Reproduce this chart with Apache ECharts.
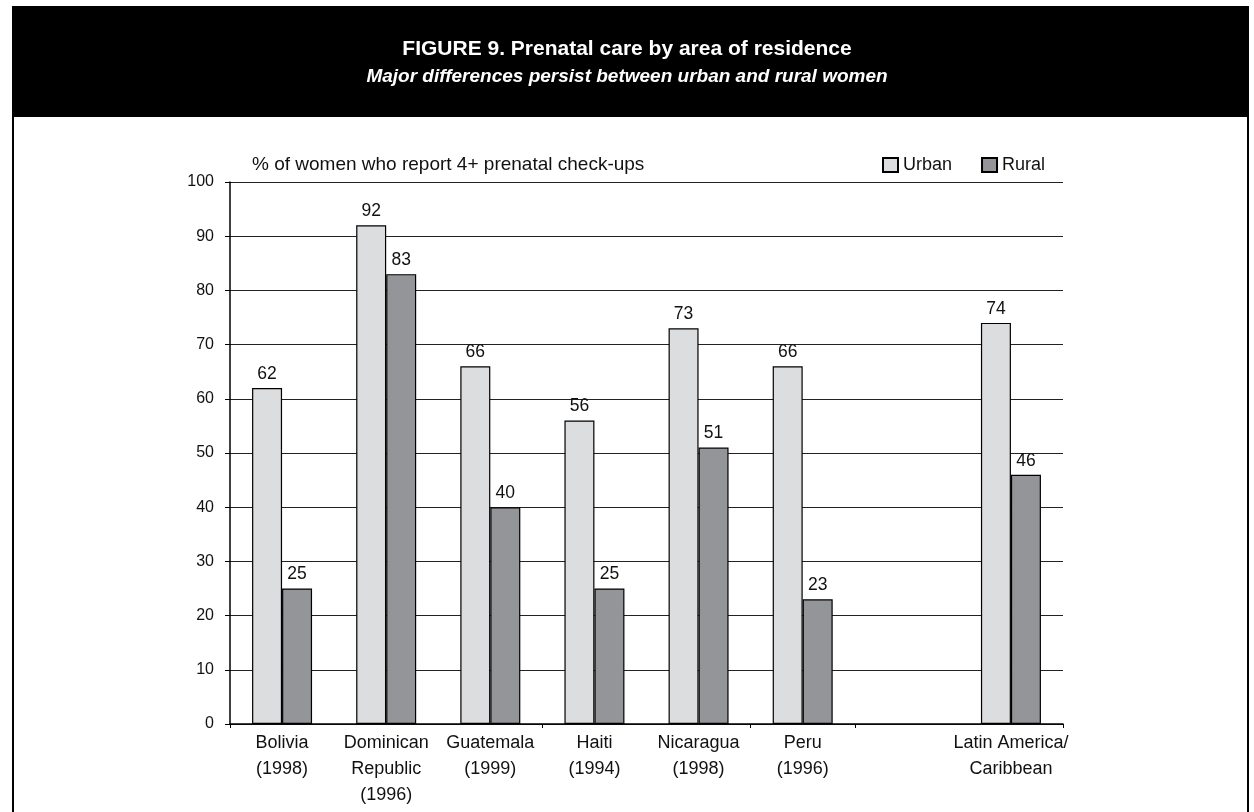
<!DOCTYPE html>
<html>
<head>
<meta charset="utf-8">
<script src="https://cdn.jsdelivr.net/npm/echarts@6/dist/echarts.min.js"></script>
<style>
html,body{margin:0;padding:0;background:#fff;}
#chart{width:1254px;height:812px;}
</style>
</head>
<body>
<div id="chart"></div>
<script>
const categories = ['Bolivia\n(1998)', 'Dominican\nRepublic\n(1996)', 'Guatemala\n(1999)', 'Haiti\n(1994)', 'Nicaragua\n(1998)', 'Peru\n(1996)', '', 'Latin America/\nCaribbean'];
const urban = [62, 92, 66, 56, 73, 66, null, 74];
const rural = [25, 83, 40, 25, 51, 23, null, 46];
const yTicks = [0, 10, 20, 30, 40, 50, 60, 70, 80, 90, 100];
const titleText = 'FIGURE 9. Prenatal care by area of residence';
const subtitleText = 'Major differences persist between urban and rural women';
const yName = '% of women who report 4+ prenatal check-ups';

const FONT = "'Liberation Sans', Arial, sans-serif";
const chart = echarts.init(document.getElementById('chart'));

const labelCfg = {show: true, position: 'top', distance: 5, fontSize: 17.5, color: '#111', fontFamily: FONT};

chart.setOption({
  animation: false,
  backgroundColor: '#fff',
  graphic: [
    {type: 'rect', shape: {x: 12, y: 6, width: 1237, height: 111}, style: {fill: '#000'}, z: 0},
    {type: 'line', shape: {x1: 13, y1: 110, x2: 13, y2: 812}, style: {stroke: '#000', lineWidth: 2}},
    {type: 'line', shape: {x1: 1248, y1: 110, x2: 1248, y2: 812}, style: {stroke: '#000', lineWidth: 2}},
    {type: 'text', left: 'center', top: 39, z: 10,
     style: {text: titleText, fill: '#fff', font: "bold 21px 'Liberation Sans', Arial, sans-serif", textAlign: 'center'}},
    {type: 'text', left: 'center', top: 67, z: 10,
     style: {text: subtitleText, fill: '#fff', font: "italic bold 19px 'Liberation Sans', Arial, sans-serif", textAlign: 'center'}}
  ],
  legend: {
    left: 877, top: 151, itemWidth: 15, itemHeight: 14, itemGap: 29,
    icon: 'rect',
    textStyle: {fontSize: 18, color: '#111', fontFamily: FONT},
    data: ['Urban', 'Rural']
  },
  grid: {left: 230, right: 191, top: 182, bottom: 88, containLabel: false},
  xAxis: {
    type: 'category',
    data: categories,
    axisLine: {lineStyle: {color: '#000', width: 1.5}},
    axisTick: {show: true, length: 4, lineStyle: {color: '#000'},
      interval: function (i) { return i === 0 || i === 3 || i === 5 || i === 6; }},
    axisLabel: {interval: 0, fontSize: 18, lineHeight: 26, color: '#111', margin: 6, fontFamily: FONT}
  },
  yAxis: {
    type: 'value', min: yTicks[0], max: yTicks[yTicks.length - 1], interval: 10,
    name: yName, nameLocation: 'end', nameGap: 17,
    nameTextStyle: {align: 'left', verticalAlign: 'middle', fontSize: 19, color: '#111', padding: [0, 0, 0, 22], fontFamily: FONT},
    axisLine: {show: true, lineStyle: {color: '#000', width: 1.5}},
    axisTick: {show: true, length: 5, lineStyle: {color: '#000'}},
    axisLabel: {fontSize: 16, color: '#111', margin: 16, fontFamily: FONT},
    splitLine: {show: true, lineStyle: {color: '#222', width: 1.2}}
  },
  series: [
    {name: 'Urban', type: 'bar', data: urban, barWidth: 30, barGap: '0%',
     itemStyle: {color: '#dcdddf', borderColor: '#000', borderWidth: 1.2}, label: labelCfg},
    {name: 'Rural', type: 'bar', data: rural, barWidth: 30,
     itemStyle: {color: '#939598', borderColor: '#000', borderWidth: 1.2}, label: labelCfg}
  ]
});
</script>
</body>
</html>
